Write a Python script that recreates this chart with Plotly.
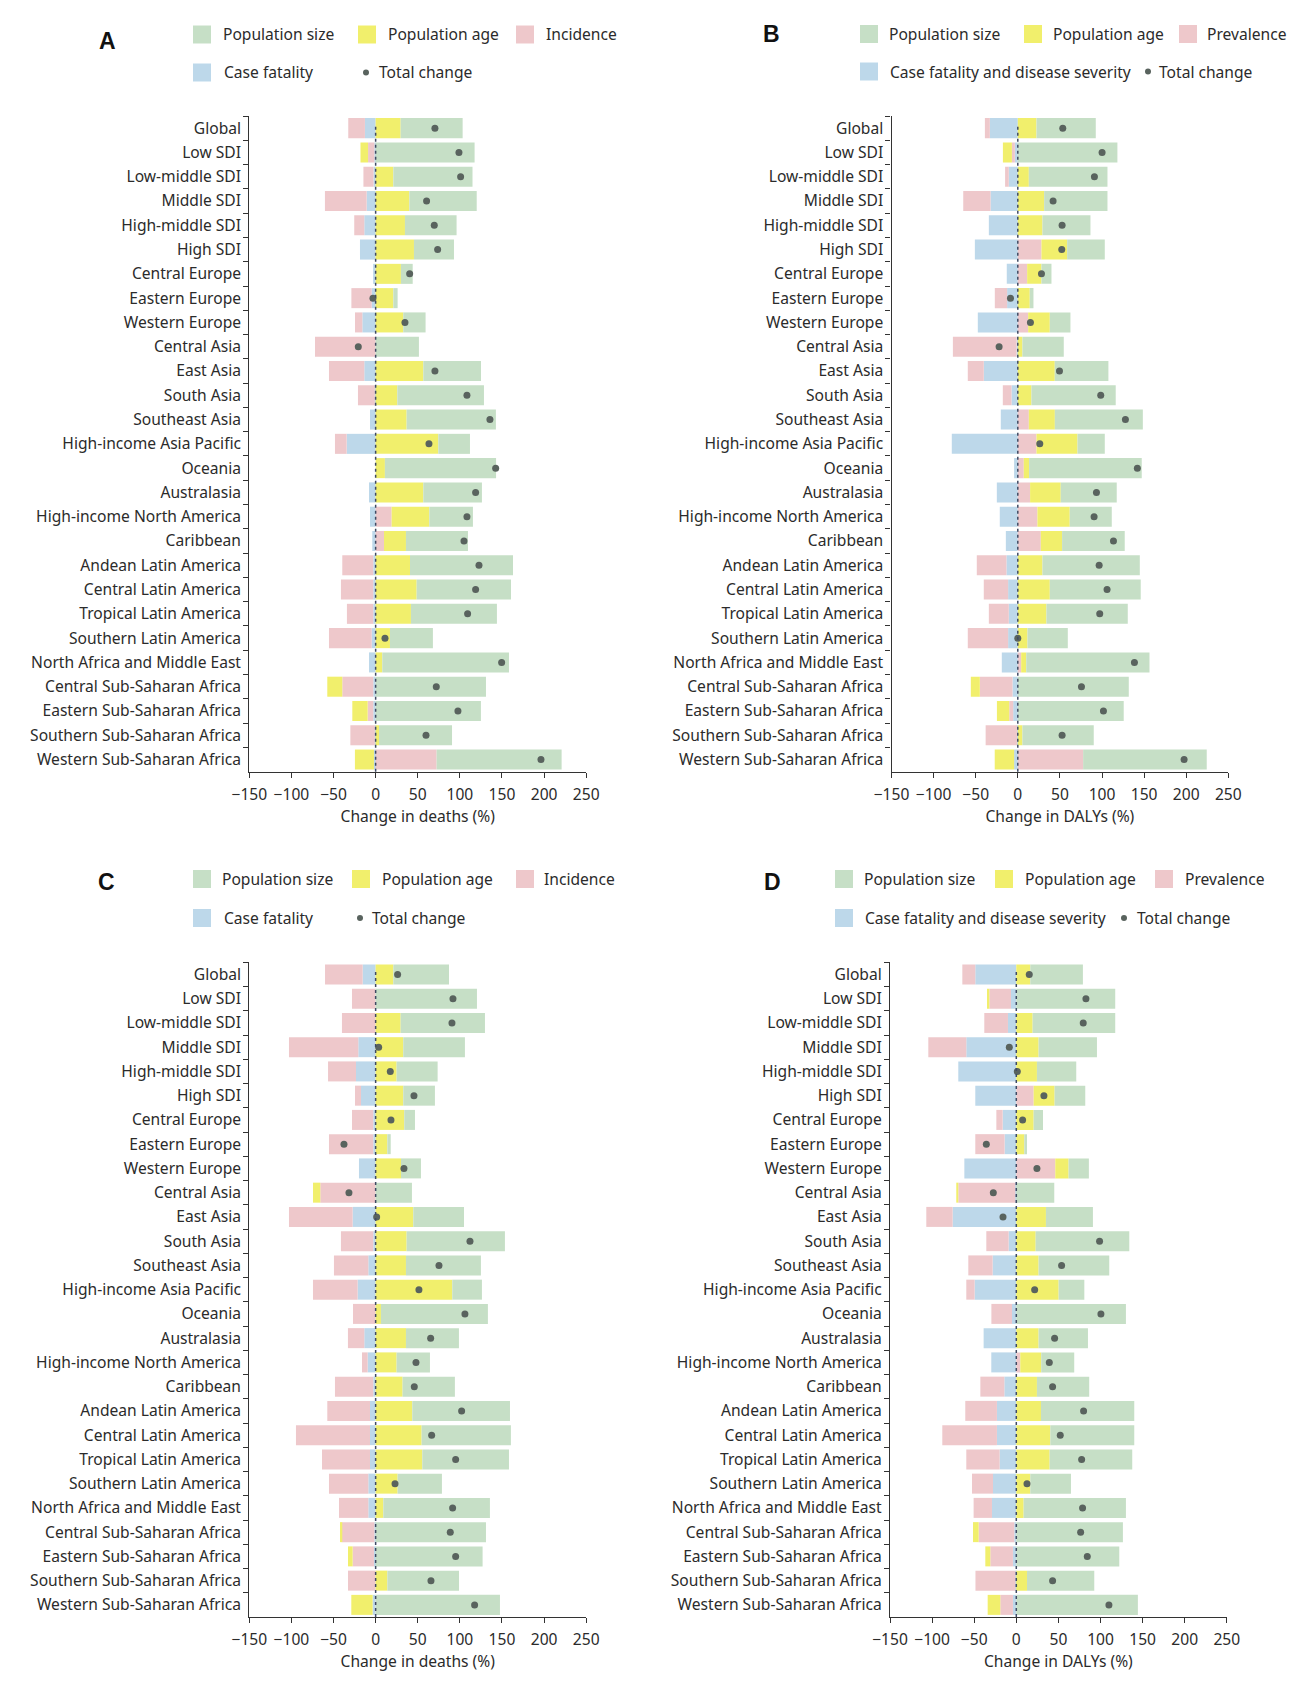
import plotly.graph_objects as go

W, H = 1314, 1684

regions = ["Global", "Low SDI", "Low-middle SDI", "Middle SDI", "High-middle SDI", "High SDI",
           "Central Europe", "Eastern Europe", "Western Europe", "Central Asia", "East Asia",
           "South Asia", "Southeast Asia", "High-income Asia Pacific", "Oceania", "Australasia",
           "High-income North America", "Caribbean", "Andean Latin America", "Central Latin America",
           "Tropical Latin America", "Southern Latin America", "North Africa and Middle East",
           "Central Sub-Saharan Africa", "Eastern Sub-Saharan Africa", "Southern Sub-Saharan Africa",
           "Western Sub-Saharan Africa"]

x_ticks = [-150, -100, -50, 0, 50, 100, 150, 200, 250]

# ---- Panel A: change in deaths (%) ----
a_case_fatality = [-12.7, -1.5, -2.5, -10.7, -13.5, -18.6, -3.0, -4.7, -15.8, 0.0, -13.5, -1.0, -6.7, -34.4,
                   0.0, -7.9, -6.7, -4.0, -2.8, -2.8, -2.8, -4.7, -7.9, -2.8, -2.8, -1.0, -2.0]
a_incidence = [-19.8, -7.5, -12.0, -49.5, -11.9, 0.0, 0.0, -24.1, -8.7, -72.0, -41.9, -20.0, 0.0, -13.9,
               0.0, 0.0, 19.0, 9.9, -36.8, -38.4, -31.3, -50.7, 0.0, -36.8, -6.7, -29.0, 72.4]
a_pop_age = [29.7, -9.0, 21.0, 40.0, 34.8, 45.5, 30.0, 21.0, 32.8, 0.0, 56.6, 25.7, 36.8, 74.4,
             11.0, 56.6, 44.7, 26.1, 40.8, 48.7, 41.9, 17.0, 7.9, -17.8, -18.2, 4.0, -22.6]
a_pop_size = [73.6, 117.5, 94.0, 80.0, 61.3, 47.5, 14.0, 5.1, 26.5, 51.4, 68.5, 102.9, 106.0, 37.6,
              132.0, 69.6, 51.8, 73.6, 122.3, 112.0, 102.1, 51.0, 150.4, 131.0, 125.0, 86.7, 148.4]
a_total = [70.4, 98.9, 100.9, 60.5, 69.6, 73.6, 40.4, -3.2, 34.8, -20.6, 70.4, 108.4, 135.7, 63.3,
           142.5, 118.7, 108.4, 104.9, 122.7, 118.7, 109.2, 11.1, 149.6, 72.0, 97.7, 59.8, 196.3]

# ---- Panel B: change in DALYs (%) ----
b_case_fatality = [-33.2, -3.5, -10.7, -32.4, -34.4, -51.0, -13.1, -12.7, -47.5, -1.5, -40.4, -7.5, -20.2, -78.4,
                   -4.4, -24.9, -21.4, -14.2, -13.5, -11.5, -10.7, -11.5, -19.0, -6.3, -5.5, -1.0, -4.4]
b_prevalence = [-5.9, -3.5, -4.4, -32.4, 0.0, 28.1, 11.1, -14.6, 12.3, -75.6, -19.0, -10.3, 13.1, 22.2,
                7.1, 14.6, 23.3, 27.3, -35.2, -28.9, -23.7, -47.9, 4.0, -38.8, -4.7, -37.2, 77.6]
b_pop_age = [22.2, -10.7, 13.1, 31.3, 29.3, 30.5, 17.0, 14.2, 25.7, 5.5, 43.9, 16.2, 30.9, 48.7,
             6.3, 36.4, 38.4, 25.3, 29.3, 38.0, 34.0, 11.5, 6.0, -10.7, -14.6, 5.5, -23.0]
b_pop_size = [70.4, 118.3, 93.4, 75.2, 57.0, 44.7, 11.9, 4.4, 24.5, 49.1, 63.7, 100.1, 104.5, 32.4,
              133.8, 66.5, 49.9, 74.4, 115.6, 108.0, 96.6, 47.9, 146.4, 131.8, 125.8, 84.7, 146.8]
b_total = [53.4, 100.1, 91.0, 41.9, 52.6, 52.2, 28.1, -8.7, 15.0, -22.2, 49.5, 98.5, 127.8, 26.1,
           142.0, 93.4, 90.6, 113.6, 96.6, 106.0, 97.3, 0.0, 138.5, 75.6, 101.7, 52.6, 197.5]

# ---- Panel C: change in deaths (%) ----
c_case_fatality = [-15.4, 0.0, 0.0, -20.6, -23.3, -17.4, -2.8, -2.8, -19.8, 0.0, -27.3, -2.8, -8.7, -21.4,
                   0.0, -13.5, -9.5, -2.8, -6.7, -6.7, -6.7, -8.7, -8.7, -1.5, -2.0, 0.0, -3.6]
c_incidence = [-44.7, -28.1, -40.0, -82.3, -33.2, -7.1, -25.3, -52.6, 0.0, -65.7, -75.6, -38.4, -40.8, -53.0,
               -26.9, -19.4, -6.7, -45.5, -50.7, -87.9, -57.0, -46.7, -34.8, -38.8, -25.3, -32.8, 0.0]
c_pop_age = [21.0, 0.0, 29.7, 32.8, 24.9, 32.8, 34.0, 13.9, 30.1, -8.7, 44.7, 36.8, 36.0, 91.0,
             6.3, 36.0, 24.9, 32.0, 43.5, 54.6, 55.4, 26.1, 9.1, -2.0, -5.5, 13.9, -25.3]
c_pop_size = [66.1, 120.3, 100.1, 73.2, 48.7, 37.6, 12.7, 4.0, 23.7, 43.1, 60.2, 116.7, 89.0, 35.2,
              127.0, 62.9, 39.6, 62.1, 116.0, 106.0, 102.9, 52.6, 126.6, 131.0, 127.0, 85.1, 147.6]
c_total = [26.1, 91.8, 90.6, 3.6, 17.4, 45.5, 18.2, -37.6, 33.6, -31.7, 1.2, 112.0, 75.2, 51.4,
           106.0, 65.3, 47.9, 45.9, 102.1, 66.5, 95.0, 23.0, 91.4, 88.6, 95.0, 65.7, 117.5]

# ---- Panel D: change in DALYs (%) ----
d_case_fatality = [-48.7, -6.3, -9.9, -59.4, -68.9, -48.7, -16.2, -13.9, -61.7, -1.2, -75.6, -9.1, -28.1, -49.5,
                   -5.1, -38.8, -29.7, -14.2, -23.0, -23.0, -19.8, -27.7, -28.9, -2.4, -4.0, -1.0, -4.0]
d_prevalence = [-15.4, -25.7, -28.1, -45.1, 0.0, 20.6, -7.5, -34.8, 46.3, -67.7, -31.3, -26.5, -28.9, -9.9,
                -24.5, 0.0, 4.7, -28.5, -37.6, -64.9, -39.6, -24.9, -21.8, -42.3, -26.9, -47.5, -15.0]
d_pop_age = [16.6, -2.8, 19.4, 26.5, 24.5, 24.9, 20.6, 9.5, 15.8, -2.4, 35.2, 23.0, 26.5, 50.3,
             0.0, 26.5, 24.9, 24.5, 29.3, 40.4, 39.6, 16.6, 8.7, -6.7, -5.9, 12.7, -15.0]
d_pop_size = [62.5, 117.5, 98.1, 69.3, 46.7, 36.4, 11.1, 3.2, 24.1, 45.1, 55.8, 111.2, 83.9, 30.5,
              130.2, 58.6, 39.2, 62.1, 110.8, 99.7, 98.1, 48.3, 121.5, 126.6, 122.3, 79.9, 144.4]
d_total = [15.4, 82.7, 79.5, -8.3, 1.2, 32.8, 7.5, -35.6, 24.5, -27.3, -15.8, 98.9, 53.8, 21.8,
           100.5, 45.5, 39.2, 43.1, 79.9, 52.2, 77.6, 12.7, 78.7, 76.4, 84.3, 43.1, 110.0]

# ---- styling ----
C_SIZE = "#c6dfc6"
C_AGE = "#f1ef6c"
C_INC = "#eec8cb"
C_CF = "#bdd8ea"
C_DOT = "#59635e"
FONT = "Noto Sans"
FS = 15.6
TXT = "#2b2b2b"

def px_x(p):
    return p / W

def px_y(p):
    return 1 - p / H

panels = [
    dict(ax="", letter="A", lpos=(107, 41), xd=(249.3, 586.2), yd=(116, 771.7),
         series=[a_case_fatality, a_incidence, a_pop_age, a_pop_size], total=a_total,
         xtitle="Change in deaths (%)", third="Incidence", cfname="Case fatality",
         leg=dict(row=(34.5, 72.5), sq=[193, 358, 516], tx=[221, 386, 544], sq2=193, tx2=222, dot=366, dtx=377)),
    dict(ax="2", letter="B", lpos=(771, 34), xd=(891.5, 1228.3), yd=(116, 771.7),
         series=[b_case_fatality, b_prevalence, b_pop_age, b_pop_size], total=b_total,
         xtitle="Change in DALYs (%)", third="Prevalence", cfname="Case fatality and disease severity",
         leg=dict(row=(34, 71.5), sq=[860, 1024, 1179], tx=[887, 1051, 1205], sq2=860, tx2=888, dot=1148, dtx=1157)),
    dict(ax="3", letter="C", lpos=(106, 882), xd=(249.3, 586.2), yd=(962.3, 1617),
         series=[c_case_fatality, c_incidence, c_pop_age, c_pop_size], total=c_total,
         xtitle="Change in deaths (%)", third="Incidence", cfname="Case fatality",
         leg=dict(row=(879, 918), sq=[193, 352, 516], tx=[220, 380, 542], sq2=193, tx2=222, dot=360, dtx=370)),
    dict(ax="4", letter="D", lpos=(772, 882), xd=(890, 1226.8), yd=(962.3, 1617),
         series=[d_case_fatality, d_prevalence, d_pop_age, d_pop_size], total=d_total,
         xtitle="Change in DALYs (%)", third="Prevalence", cfname="Case fatality and disease severity",
         leg=dict(row=(879, 918), sq=[835, 995, 1155], tx=[862, 1023, 1183], sq2=835, tx2=863, dot=1124, dtx=1135)),
]

colors = [C_CF, C_INC, C_AGE, C_SIZE]

fig = go.Figure()
shapes = []
annotations = []
layout_axes = {}

for p in panels:
    xa = "x" + p["ax"]
    ya = "y" + p["ax"]
    for vals, col in zip(p["series"], colors):
        fig.add_trace(go.Bar(x=vals, y=regions, orientation="h", marker=dict(color=col, line=dict(width=0)),
                             xaxis=xa, yaxis=ya, showlegend=False, hoverinfo="x+y"))
    fig.add_trace(go.Scatter(x=p["total"], y=regions, mode="markers",
                             marker=dict(size=7, color=C_DOT), xaxis=xa, yaxis=ya, showlegend=False))

    xname = "xaxis" + p["ax"]
    yname = "yaxis" + p["ax"]
    layout_axes[xname] = dict(
        domain=[px_x(p["xd"][0]), px_x(p["xd"][1])], anchor=ya, range=[-150, 250],
        tickmode="array", tickvals=x_ticks, ticks="outside", ticklen=5, tickwidth=1.2,
        tickcolor="#333", showline=True, linecolor="#333", linewidth=1.3, showgrid=False,
        zeroline=False, tickfont=dict(family=FONT, size=FS, color=TXT), ticklabelstandoff=3,
        automargin=False,
        title=dict(text=p["xtitle"], font=dict(family=FONT, size=FS, color=TXT), standoff=3),
    )
    layout_axes[yname] = dict(
        domain=[px_y(p["yd"][1]), px_y(p["yd"][0])], anchor=xa, type="category",
        categoryorder="array", categoryarray=regions, range=[26.5, -0.5],
        tickson="boundaries", ticks="outside", ticklen=5, tickwidth=1.2, tickcolor="#333",
        showline=True, linecolor="#333", linewidth=1.3, showgrid=False, zeroline=False,
        tickfont=dict(family=FONT, size=FS, color=TXT), ticklabelstandoff=4, automargin=False,
    )
    shapes.append(dict(type="line", xref=xa, yref=ya + " domain", x0=0, x1=0, y0=0, y1=0.985,
                       line=dict(color="#3f4a63", width=1.5, dash="dot"), layer="above"))

    annotations.append(dict(text="<b>" + p["letter"] + "</b>", x=px_x(p["lpos"][0]), y=px_y(p["lpos"][1]),
                            xref="paper", yref="paper", xanchor="center", yanchor="middle", showarrow=False,
                            font=dict(family="Liberation Sans", size=23, color="#111")))
    lg = p["leg"]
    r1, r2 = lg["row"]
    names1 = ["Population size", "Population age", p["third"]]
    cols1 = [C_SIZE, C_AGE, C_INC]
    for sx, tx, nm, col in zip(lg["sq"], lg["tx"], names1, cols1):
        shapes.append(dict(type="rect", xref="paper", yref="paper", x0=px_x(sx), x1=px_x(sx + 18),
                           y0=px_y(r1 + 9), y1=px_y(r1 - 9), fillcolor=col, line=dict(width=0)))
        annotations.append(dict(text=nm, x=px_x(tx), y=px_y(r1), xref="paper", yref="paper",
                                xanchor="left", yanchor="middle", showarrow=False,
                                font=dict(family=FONT, size=FS, color=TXT)))
    shapes.append(dict(type="rect", xref="paper", yref="paper", x0=px_x(lg["sq2"]), x1=px_x(lg["sq2"] + 18),
                       y0=px_y(r2 + 9), y1=px_y(r2 - 9), fillcolor=C_CF, line=dict(width=0)))
    annotations.append(dict(text=p["cfname"], x=px_x(lg["tx2"]), y=px_y(r2), xref="paper", yref="paper",
                            xanchor="left", yanchor="middle", showarrow=False,
                            font=dict(family=FONT, size=FS, color=TXT)))
    shapes.append(dict(type="circle", xref="paper", yref="paper", x0=px_x(lg["dot"] - 3), x1=px_x(lg["dot"] + 3),
                       y0=px_y(r2 + 3), y1=px_y(r2 - 3), fillcolor=C_DOT, line=dict(width=0)))
    annotations.append(dict(text="Total change", x=px_x(lg["dtx"]), y=px_y(r2), xref="paper", yref="paper",
                            xanchor="left", yanchor="middle", showarrow=False,
                            font=dict(family=FONT, size=FS, color=TXT)))

fig.update_layout(
    width=W, height=H, margin=dict(l=0, r=0, t=0, b=0),
    paper_bgcolor="white", plot_bgcolor="white",
    barmode="relative", bargap=0.175,
    font=dict(family=FONT, size=FS, color=TXT),
    shapes=shapes, annotations=annotations, showlegend=False,
    **layout_axes,
)

fig.write_html("out.html", config={"displayModeBar": False},
               post_script="document.body.style.margin='0px';document.body.style.overflow='hidden';")
